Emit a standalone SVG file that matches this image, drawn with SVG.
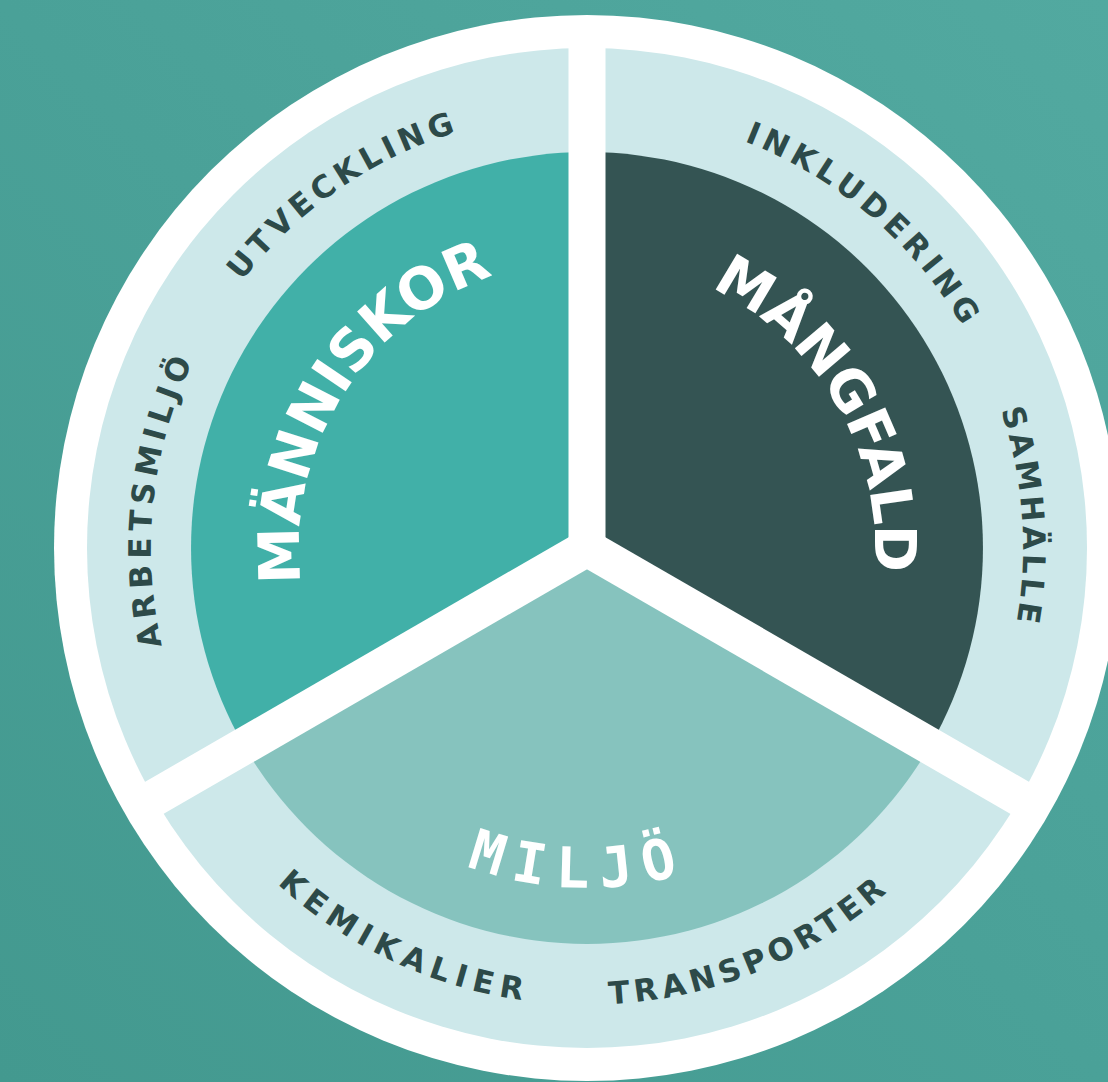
<svg xmlns="http://www.w3.org/2000/svg" xmlns:xlink="http://www.w3.org/1999/xlink" width="1108" height="1082" viewBox="0 0 1108 1082">
  <defs>
    <linearGradient id="bg" x1="1" y1="0" x2="0" y2="1">
      <stop offset="0" stop-color="#52a9a0"/>
      <stop offset="0.5" stop-color="#4aa198"/>
      <stop offset="1" stop-color="#43998f"/>
    </linearGradient>
    <path id="arcTopOuter" d="M157.6,472.3 A436,436 0 0 1 1016.4,472.3"/>
    <path id="arcBotOuter" d="M137.4,627.3 A456.5,456.5 0 0 0 1036.6,627.3"/>
    <path id="arcTopInner" d="M303.4,498 A288,288 0 0 1 870.6,498"/>
    <path id="arcBotInner" d="M252.2,607 A340,340 0 0 0 921.8,607"/>
  </defs>
  <style>
    .outer { font-family: "DejaVu Sans", "Verdana", sans-serif; font-weight: bold; font-size: 31px; fill: #2d4a49; }
    .inner { font-family: "DejaVu Sans", "Verdana", sans-serif; font-weight: bold; font-size: 57px; fill: #ffffff; }
    .miljo { font-family: "DejaVu Sans Mono", "Liberation Mono", monospace; font-weight: bold; font-size: 56px; fill: #ffffff; letter-spacing: 12px; }
    .divider { stroke: #ffffff; stroke-width: 37; stroke-linecap: butt; fill: none; }
  </style>

  <rect x="0" y="0" width="1108" height="1082" fill="url(#bg)"/>

  <g id="wheel-base">
    <circle cx="587" cy="548" r="533" fill="#ffffff"/>
    <circle cx="587" cy="548" r="500" fill="#cde8ea"/>
  </g>

  <g id="manniskor">
    <path d="M587,548 L244.1,746 A396,396 0 0 1 587,152 Z" fill="#41b0a8"/>
    <g transform="rotate(-58 587 548)">
      <text class="inner"><textPath href="#arcTopInner" startOffset="50%" text-anchor="middle">MÄNNISKOR</textPath></text>
    </g>
    <g transform="rotate(-34.6 587 548)">
      <text class="outer" letter-spacing="4.9"><textPath href="#arcTopOuter" startOffset="50%" text-anchor="middle">UTVECKLING</textPath></text>
    </g>
    <g transform="rotate(-83.5 587 548)">
      <text class="outer" letter-spacing="5.5"><textPath href="#arcTopOuter" startOffset="50%" text-anchor="middle">ARBETSMILJÖ</textPath></text>
    </g>
  </g>

  <g id="mangfald">
    <path d="M587,548 L587,152 A396,396 0 0 1 929.9,746 Z" fill="#345453"/>
    <g transform="rotate(60 587 548)">
      <text class="inner" letter-spacing="-1"><textPath href="#arcTopInner" startOffset="50%" text-anchor="middle">MÅNGFALD</textPath></text>
    </g>
    <g transform="rotate(40.6 587 548)">
      <text class="outer" letter-spacing="5.2"><textPath href="#arcTopOuter" startOffset="50%" text-anchor="middle">INKLUDERING</textPath></text>
    </g>
    <g transform="rotate(85.9 587 548)">
      <text class="outer" letter-spacing="3.8"><textPath href="#arcTopOuter" startOffset="50%" text-anchor="middle">SAMHÄLLE</textPath></text>
    </g>
  </g>

  <g id="miljo">
    <path d="M587,548 L929.9,746 A396,396 0 0 1 244.1,746 Z" fill="#86c3be"/>
    <g transform="rotate(1.5 587 548)">
      <text class="miljo"><textPath href="#arcBotInner" startOffset="50%" text-anchor="middle">MILJÖ</textPath></text>
    </g>
    <g transform="rotate(25 587 548)">
      <text class="outer" letter-spacing="7"><textPath href="#arcBotOuter" startOffset="50%" text-anchor="middle">KEMIKALIER</textPath></text>
    </g>
    <g transform="rotate(-22.25 587 548)">
      <text class="outer" letter-spacing="5"><textPath href="#arcBotOuter" startOffset="50%" text-anchor="middle">TRANSPORTER</textPath></text>
    </g>
  </g>

  <g id="dividers">
    <line class="divider" x1="587" y1="548" x2="587" y2="28"/>
    <line class="divider" x1="587" y1="548" x2="1037.3" y2="808"/>
    <line class="divider" x1="587" y1="548" x2="136.7" y2="808"/>
    <circle cx="587" cy="548" r="20" fill="#ffffff"/>
  </g>
</svg>
